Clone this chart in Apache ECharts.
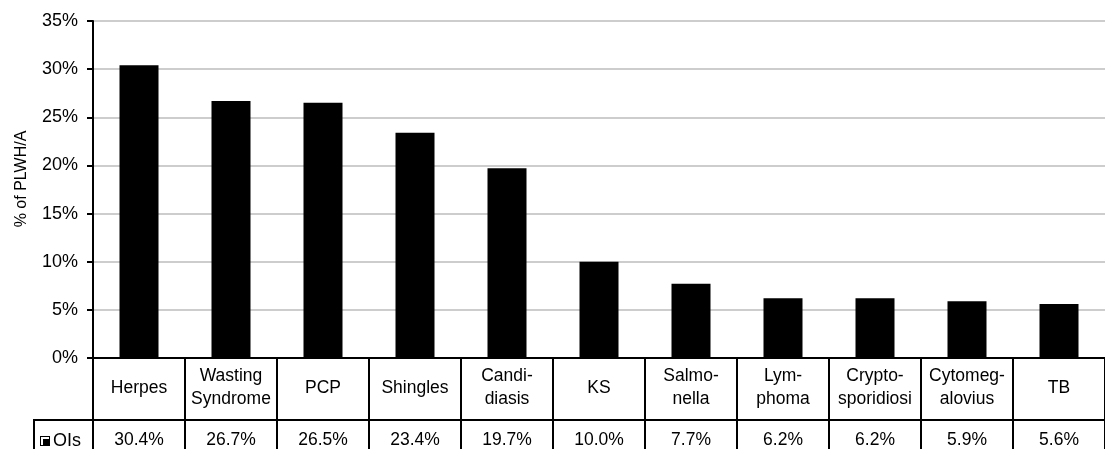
<!DOCTYPE html>
<html>
<head>
<meta charset="utf-8">
<style>
  html, body { margin: 0; padding: 0; background: #fff; }
  #chart { width: 1105px; height: 449px; }
</style>
<script src="https://cdn.jsdelivr.net/npm/echarts@6/dist/echarts.min.js"></script>
</head>
<body>
<div id="chart"></div>
<script>
// Opportunistic infections among people living with HIV/AIDS
const categories = [
  'Herpes', 'Wasting\nSyndrome', 'PCP', 'Shingles', 'Candi-\ndiasis', 'KS',
  'Salmo-\nnella', 'Lym-\nphoma', 'Crypto-\nsporidiosi', 'Cytomeg-\nalovius', 'TB'
];
const seriesName = 'OIs';
const values = [30.4, 26.7, 26.5, 23.4, 19.7, 10.0, 7.7, 6.2, 6.2, 5.9, 5.6];
const yTicks = { min: 0, max: 35, interval: 5 };
const yTitle = '% of PLWH/A';

const FONT = 'Liberation Sans, Arial, sans-serif';
const chart = echarts.init(document.getElementById('chart'), null, { renderer: 'canvas' });

// second row of the data table: the values themselves
const tableRowLabels = values.map(v => v.toFixed(1) + '%');

// bevelled square key: black frame, white L along top/left, black core
const keyIcon = 'path://M0 0L10 0L10 10L0 10Z M1 1L1 9L3 9L3 3L9 3L9 1Z';

chart.setOption({
  animation: false,
  textStyle: { fontFamily: FONT },
  grid: { left: 93, top: 21, width: 1024, height: 337 },
  legend: {
    data: [{ name: seriesName, icon: keyIcon }],
    left: 40, top: 432,
    itemWidth: 10, itemHeight: 10, itemGap: 4,
    textStyle: { fontFamily: FONT, fontSize: 18, color: '#000', padding: [0, 0, 0, -2] },
    padding: 0
  },
  xAxis: [
    {
      type: 'category',
      data: categories,
      position: 'bottom',
      axisLine: { show: true, lineStyle: { color: '#000', width: 2 } },
      axisTick: { show: true, interval: 0, length: 62, lineStyle: { color: '#000', width: 2 } },
      axisLabel: {
        interval: 0, margin: 30, verticalAlign: 'middle',
        fontSize: 17.5, lineHeight: 23, color: '#000', fontFamily: FONT
      },
      splitLine: { show: false }
    },
    {
      type: 'category',
      data: tableRowLabels,
      position: 'bottom',
      offset: 62,
      axisLine: { show: true, lineStyle: { color: '#000', width: 2 } },
      axisTick: { show: true, interval: 0, length: 32, lineStyle: { color: '#000', width: 2 } },
      axisLabel: {
        interval: 0, margin: 20, verticalAlign: 'middle',
        fontSize: 17.5, color: '#000', fontFamily: FONT
      },
      splitLine: { show: false }
    }
  ],
  yAxis: {
    type: 'value',
    min: yTicks.min, max: yTicks.max, interval: yTicks.interval,
    axisLine: { show: true, lineStyle: { color: '#000', width: 2 } },
    axisTick: { show: true, length: 6, lineStyle: { color: '#000', width: 2 } },
    axisLabel: {
      margin: 15, fontSize: 18, color: '#000', fontFamily: FONT,
      formatter: v => v + '%'
    },
    splitLine: { show: true, lineStyle: { color: '#bdbdbd', width: 1.5 } }
  },
  series: [
    {
      name: seriesName,
      type: 'bar',
      xAxisIndex: 0,
      data: values,
      barWidth: 39,
      itemStyle: { color: '#000' }
    }
  ],
  graphic: [
    // vertical axis title
    {
      type: 'text', x: 21.5, y: 179, rotation: Math.PI / 2,
      style: {
        text: yTitle, fontSize: 16, fontFamily: FONT, fill: '#000',
        align: 'center', verticalAlign: 'middle'
      }
    },
    // legend cell borders of the data table
    { type: 'line', shape: { x1: 34, y1: 420, x2: 94, y2: 420 }, style: { stroke: '#000', lineWidth: 2 } },
    { type: 'line', shape: { x1: 34, y1: 419, x2: 34, y2: 449 }, style: { stroke: '#000', lineWidth: 2 } }
  ]
});
</script>
</body>
</html>
